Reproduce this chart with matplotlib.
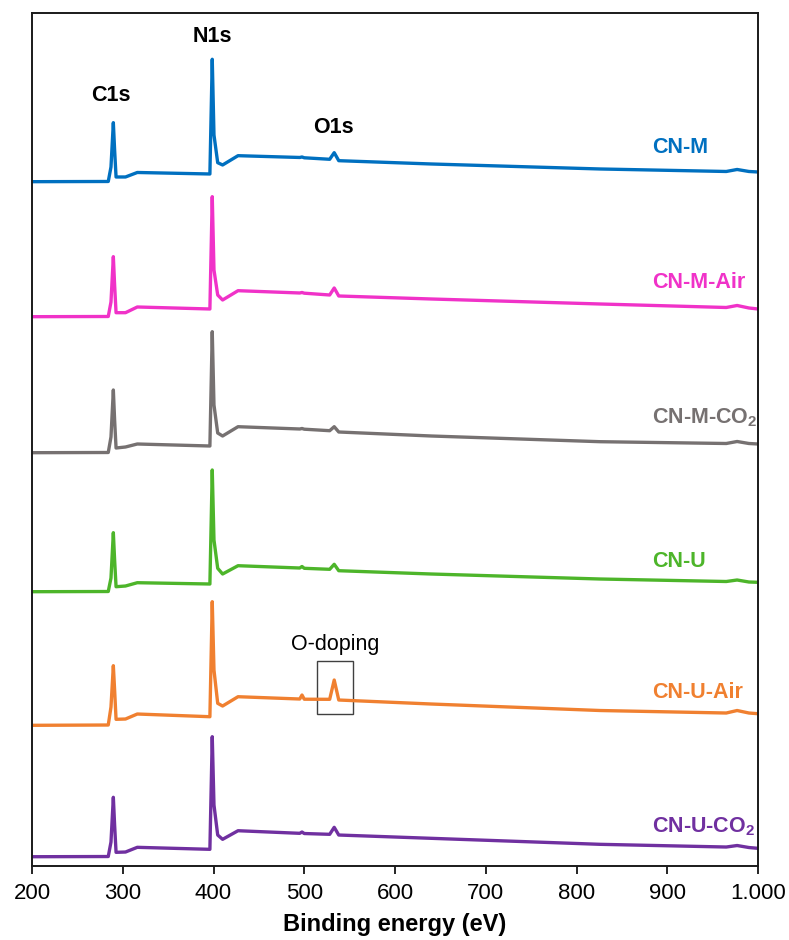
import matplotlib
matplotlib.use("Agg")
from matplotlib import pyplot as plt
from matplotlib.patches import Rectangle
from matplotlib.ticker import FuncFormatter

plt.rcParams['font.family'] = ['Liberation Sans', 'DejaVu Sans']
plt.rcParams['mathtext.fontset'] = 'custom'
plt.rcParams['mathtext.bf'] = 'Liberation Sans:bold'
plt.rcParams['mathtext.rm'] = 'Liberation Sans'

# binding energy keypoints (eV)
energy = [200, 284, 287, 289.6, 291, 292.6, 303, 316, 396, 398.6, 400.5, 404.6, 410,
          427, 495, 497.5, 500, 528, 533, 538, 640, 826, 965, 977, 990, 1000]

# stacked intensities (a.u.), top to bottom
cn_m = [684.3, 684.5, 699, 743.3, 716, 689, 689, 693.5, 692, 806.7, 731, 703.3, 701,
        710.3, 708.5, 709, 708.2, 706.7, 713.3, 705.3, 702, 697, 694.5, 696.5, 694.5, 694]
cn_m_air = [549.3, 549.5, 564, 609.3, 581, 553.3, 553.3, 559, 557, 669.3, 596, 571, 566,
            575.3, 573, 573.5, 572.8, 571, 578, 570, 567, 562, 558.5, 560.5, 558, 557]
cn_m_co2 = [413.3, 413.5, 429, 476, 446, 418, 419, 422, 420, 534.3, 461, 433, 430,
            439.3, 437, 437.5, 436.8, 435.3, 439.3, 434, 430, 424.3, 422.5, 424.5, 422.5, 422]
cn_u = [274.3, 274.5, 288, 333.3, 306, 279.3, 280, 283.3, 282, 396, 326, 297.7, 292,
        300.3, 298, 299.5, 297.7, 296.7, 301.7, 295.3, 292, 287, 284.5, 286, 284, 283.7]
cn_u_air = [140.7, 141, 159, 200.3, 176, 146.7, 147, 152, 149.3, 264.3, 196, 162.7, 160,
            169.3, 167, 171, 166.8, 166.7, 186, 166, 162, 155.5, 153, 155.5, 153, 152.3]
cn_u_co2 = [9.3, 9.5, 24, 68.7, 41, 13.7, 14, 18.7, 16.7, 129.3, 61, 31, 26.7,
            35.3, 32.7, 34, 32.5, 31.7, 38.7, 31, 27.7, 21.7, 19, 20.5, 18.5, 17.7]

series = [cn_m, cn_m_air, cn_m_co2, cn_u, cn_u_air, cn_u_co2]
names = ['CN-M', 'CN-M-Air', r'CN-M-CO$_{\mathbf{2}}$', 'CN-U', 'CN-U-Air', r'CN-U-CO$_{\mathbf{2}}$']
colors = ['#0070C0', '#F032C8', '#767171', '#4DB52A', '#F08030', '#7030A0']
name_y = [718, 583, 448, 305, 174, 39]

peaks = ['C1s', 'N1s', 'O1s']
peak_x = [286.5, 398.3, 531.7]
peak_y = [770, 829, 738]

fig = plt.figure(figsize=(7.89, 9.40), dpi=100)
ax = fig.add_axes([0.0406, 0.0787, 0.9201, 0.9075])

for ys, c in zip(series, colors):
    ax.plot(energy, ys, color=c, lw=2.4, solid_joinstyle='round')

for n, c, y in zip(names, colors, name_y):
    ax.text(883, y, n, color=c, fontsize=15.5, fontweight='bold', ha='left', va='center')

for p, x, y in zip(peaks, peak_x, peak_y):
    ax.text(x, y, p, fontsize=15.5, fontweight='bold', ha='center', va='center')

ax.add_patch(Rectangle((514.4, 152), 39.3, 52.7, fill=False, ec='#404040', lw=1.0))
ax.text(533.7, 222, 'O-doping', fontsize=15.5, ha='center', va='center')

ax.set_xlim(200, 1000)
ax.set_ylim(0, 853)
ax.set_xticks(range(200, 1001, 100))
ax.xaxis.set_major_formatter(FuncFormatter(lambda v, p: f'{v:,.0f}'.replace(',', '.')))
ax.set_yticks([])
ax.tick_params(axis='x', direction='out', length=6, width=1.2, labelsize=16, pad=6)
for s in ax.spines.values():
    s.set_linewidth(1.4)
    s.set_color('#1a1a1a')
ax.set_xlabel('Binding energy (eV)', fontsize=17, fontweight='bold', labelpad=7)

fig.savefig('out.png', dpi=100)
